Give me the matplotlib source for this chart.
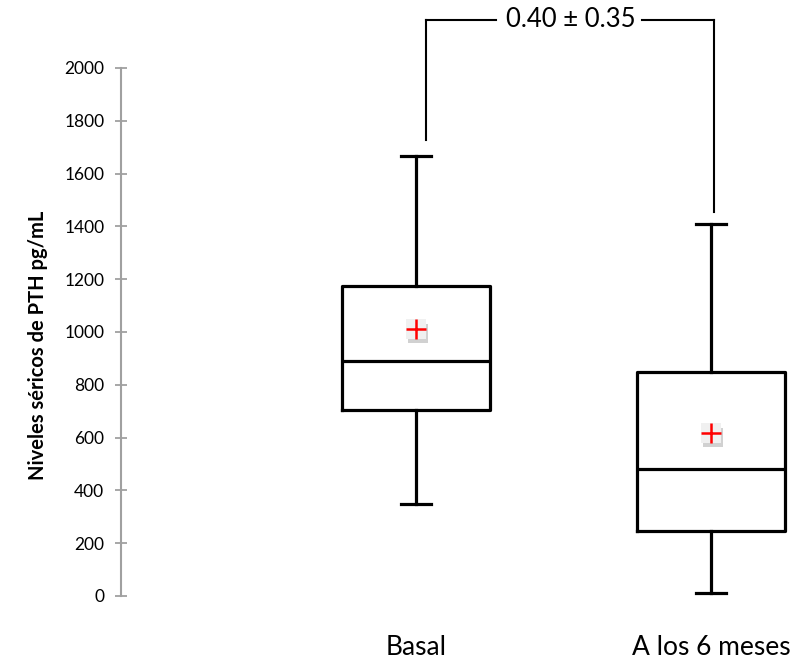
import matplotlib
matplotlib.use("Agg")
import matplotlib.pyplot as plt
import matplotlib.patheffects as pe

categories = ["Basal", "A los 6 meses"]
whis_lo = [348, 11]
q1 = [705, 246]
median = [890, 481]
q3 = [1174, 848]
whis_hi = [1667, 1409]
means = [1011, 617]
yticks = [0, 200, 400, 600, 800, 1000, 1200, 1400, 1600, 1800, 2000]
bracket_label = "0.40 ± 0.35"

plt.rcParams['font.family'] = ['Lato', 'DejaVu Sans']

fig = plt.figure(figsize=(7.94, 6.61), dpi=100)
ax = fig.add_axes([121/794, 65/661, 1 - 121/794, 528/661])

stats = []
for i, c in enumerate(categories):
    stats.append(dict(label=c, whislo=whis_lo[i], q1=q1[i], med=median[i],
                      q3=q3[i], whishi=whis_hi[i], mean=means[i], fliers=[]))

lw = 2.3
positions = [1, 2]
ax.bxp(stats, positions=positions, widths=0.5, capwidths=0.105,
       showmeans=False, showfliers=False,
       boxprops=dict(color='black', linewidth=lw),
       whiskerprops=dict(color='black', linewidth=lw),
       capprops=dict(color='black', linewidth=lw),
       medianprops=dict(color='black', linewidth=lw))

# mean markers with light shadowed square
for x, m in zip(positions, means):
    ax.plot(x, m, marker='s', markersize=14, markerfacecolor='#f0f0f0',
            markeredgecolor='none', zorder=4,
            path_effects=[pe.SimplePatchShadow(offset=(1.5, -3), shadow_rgbFace='#9a9a9a', alpha=0.45), pe.Normal()])
    ax.plot(x, m, marker='+', markersize=15, markeredgewidth=1.8,
            color='#ff0000', zorder=5)

ax.set_ylim(0, 2000)
ax.set_xlim(0, (794 - 121) / 295)
ax.set_yticks(yticks)
ax.set_yticklabels([str(t) for t in yticks], fontsize=12.5)
ax.tick_params(axis='y', direction='inout', length=8, width=1.3,
               color='#a0a0a0', pad=8)
ax.set_xticks(positions)
ax.set_xticklabels(categories, fontsize=19)
ax.tick_params(axis='x', length=0, pad=28)

for s in ['top', 'right', 'bottom']:
    ax.spines[s].set_visible(False)
ax.spines['left'].set_color('#a0a0a0')
ax.spines['left'].set_linewidth(1.5)

ax.set_ylabel("Niveles séricos de PTH pg/mL", fontsize=14.5, fontweight='bold',
              va='center')
ax.yaxis.set_label_coords(-0.123, 0.475)

# comparison bracket
top_y = 2182
xl, xr = 1.034, 2.01
ax.plot([xl, xl], [whis_hi[0] + 60, top_y], color='black', lw=1.5, clip_on=False)
ax.plot([xr, xr], [whis_hi[1] + 45, top_y], color='black', lw=1.5, clip_on=False)
ax.plot([xl, 1.27], [top_y, top_y], color='black', lw=1.5, clip_on=False)
ax.plot([1.765, xr], [top_y, top_y], color='black', lw=1.5, clip_on=False)
ax.text(1.525, top_y, bracket_label, ha='center', va='center', fontsize=18.5,
        clip_on=False)

fig.savefig("out.png", dpi=100)
